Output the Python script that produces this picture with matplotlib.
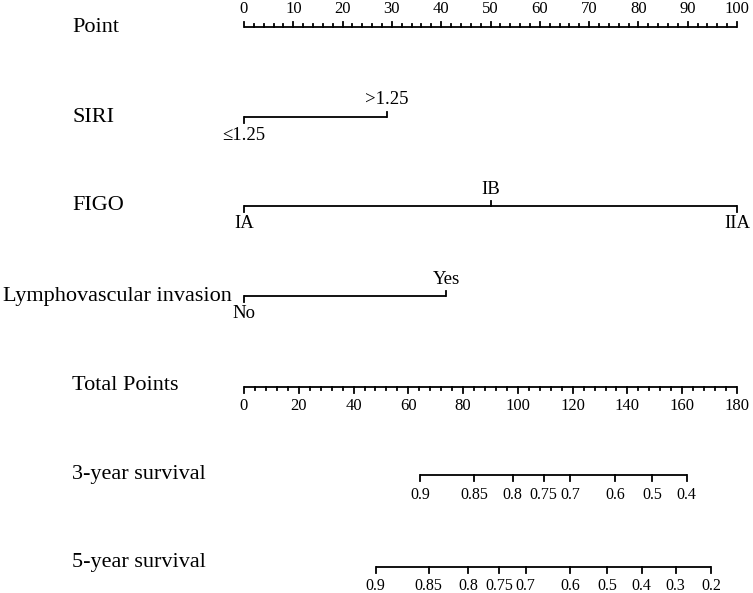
import matplotlib
matplotlib.use('Agg')
import matplotlib.pyplot as plt
import numpy as np

plt.rcParams['font.family'] = ['Liberation Serif', 'DejaVu Serif']

# data
point_ticks = np.arange(0, 101, 10)
total_ticks = np.arange(0, 181, 20)
total_max = 180

siri_labels = ['≤1.25', '>1.25']
siri_points = [0, 29]
figo_labels = ['IA', 'IB', 'IIA']
figo_points = [0, 50, 100]
lvi_labels = ['No', 'Yes']
lvi_points = [0, 41]

surv3_labels = ['0.9', '0.85', '0.8', '0.75', '0.7', '0.6', '0.5', '0.4']
surv3_total = [64.3, 84.0, 98.1, 109.4, 119.0, 135.4, 149.0, 161.6]
surv5_labels = ['0.9', '0.85', '0.8', '0.75', '0.7', '0.6', '0.5', '0.4', '0.3', '0.2']
surv5_total = [48.1, 67.4, 81.9, 93.1, 102.8, 119.0, 132.6, 145.2, 157.6, 170.5]

# layout (pixel rows, x in point units)
W, H = 753, 593
x0_px, px_per_pt = 244, 4.93
LW = 1.3
TICK = 5.5
LAB_FS = 16
CAT_FS = 13.5

fig = plt.figure(figsize=(W / 100, H / 100), dpi=100)
ax = fig.add_axes([0, 0, 1, 1])
ax.set_xlim(-x0_px / px_per_pt, (W - x0_px) / px_per_pt)
ax.set_ylim(H, 0)
ax.axis('off')


def row_label(text, y, x_px=72):
    ax.text((x_px - x0_px) / px_per_pt, y, text, fontsize=LAB_FS,
            ha='left', va='center')


def scale(xs, labels, y, label_y, fs, up=False, minor=None):
    ax.plot([min(xs), max(xs)], [y, y], color='black', lw=LW,
            solid_capstyle='butt')
    d = -1 if up else 1
    for x in xs:
        ax.plot([x, x], [y, y + d * TICK], color='black', lw=LW)
    if minor is not None:
        for x in minor:
            ax.plot([x, x], [y, y + d * TICK * 0.55], color='black', lw=LW)
    for x, lab in zip(xs, labels):
        ax.text(x, label_y, lab, fontsize=fs, ha='center', va='center')


def categorical(points, labels, y):
    ax.plot([min(points), max(points)], [y, y], color='black', lw=LW,
            solid_capstyle='butt')
    for i, (p, lab) in enumerate(zip(points, labels)):
        d = 1 if i % 2 == 0 else -1
        ax.plot([p, p], [y, y + d * TICK], color='black', lw=LW)
        off = 18 if d > 0 else 17
        ax.text(p, y + d * off, lab, fontsize=CAT_FS, ha='center', va='center')


# Point
row_label('Point', 27)
minor_pts = [v for v in np.arange(0, 101, 2) if v % 10 != 0]
scale(point_ticks, [str(v) for v in point_ticks], 27, 9, 12, up=True,
      minor=minor_pts)

# predictors
row_label('SIRI', 117)
categorical(siri_points, siri_labels, 117)
row_label('FIGO', 206)
categorical(figo_points, figo_labels, 206)
row_label('Lymphovascular invasion', 296, x_px=3)
categorical(lvi_points, lvi_labels, 296)

# Total points
k = 100 / total_max
row_label('Total Points', 386)
minor_tot = [v * k for v in np.arange(0, 181, 4) if v % 20 != 0]
scale(total_ticks * k, [str(v) for v in total_ticks], 387, 406, 12,
      minor=minor_tot)

# survival
row_label('3-year survival', 474)
scale(np.array(surv3_total) * k, surv3_labels, 475, 495, 11.5)
row_label('5-year survival', 563)
scale(np.array(surv5_total) * k, surv5_labels, 567, 586, 11.5)

fig.savefig('out.png', dpi=100)
